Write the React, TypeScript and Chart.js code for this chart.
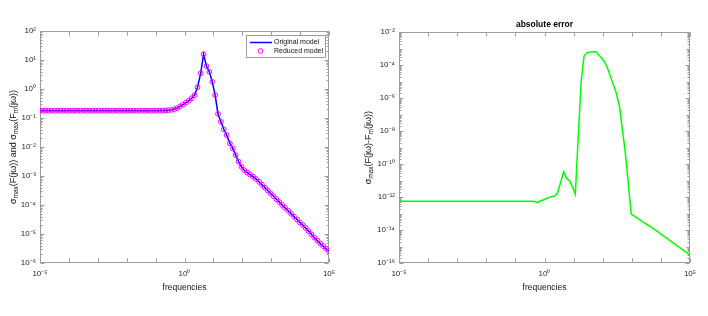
import React, { useEffect, useRef } from "react";
import { Chart, registerables } from "chart.js";

Chart.register(...registerables);

// ---------- data ----------
// frequency grid, as base-10 exponents (100 log-spaced samples from 1e-5 to 1e5)
const frequencyExponents = [
  -5.0, -4.9, -4.8, -4.7, -4.6, -4.49, -4.39, -4.29, -4.19, -4.09,
  -3.99, -3.89, -3.79, -3.69, -3.59, -3.48, -3.38, -3.28, -3.18, -3.08,
  -2.98, -2.88, -2.78, -2.68, -2.58, -2.47, -2.37, -2.27, -2.17, -2.07,
  -1.97, -1.87, -1.77, -1.67, -1.57, -1.46, -1.36, -1.26, -1.16, -1.06,
  -0.96, -0.86, -0.76, -0.66, -0.56, -0.45, -0.35, -0.25, -0.15, -0.05,
  0.05, 0.15, 0.25, 0.35, 0.45, 0.56, 0.66, 0.76, 0.86, 0.96,
  1.06, 1.16, 1.26, 1.36, 1.46, 1.57, 1.67, 1.77, 1.87, 1.97,
  2.07, 2.17, 2.27, 2.37, 2.47, 2.58, 2.68, 2.78, 2.88, 2.98,
  3.08, 3.18, 3.28, 3.38, 3.48, 3.59, 3.69, 3.79, 3.89, 3.99,
  4.09, 4.19, 4.29, 4.39, 4.49, 4.6, 4.7, 4.8, 4.9, 5.0,
];

const originalModel = [
  0.179, 0.179, 0.179, 0.179, 0.179, 0.179, 0.179, 0.179, 0.179, 0.179,
  0.179, 0.179, 0.179, 0.179, 0.179, 0.179, 0.179, 0.179, 0.179, 0.179,
  0.179, 0.179, 0.179, 0.179, 0.179, 0.179, 0.179, 0.179, 0.179, 0.179,
  0.179, 0.179, 0.179, 0.179, 0.179, 0.179, 0.179, 0.179, 0.179, 0.179,
  0.179, 0.179, 0.18, 0.182, 0.185, 0.191, 0.2, 0.221, 0.253, 0.288,
  0.339, 0.398, 0.479, 0.617, 1.15, 3.47, 15.8, 6.17, 3.89, 1.78,
  0.617, 0.138, 0.0741, 0.0407, 0.0257, 0.0135, 0.00891, 0.00525, 0.00316, 0.00209,
  0.00158, 0.00132, 0.00112, 0.000955, 0.000794, 0.000631, 0.000501, 0.000398, 0.000316, 0.000251,
  0.0002, 0.000158, 0.000126, 0.0001, 7.94e-5, 6.31e-5, 5.01e-5, 3.98e-5, 3.16e-5, 2.51e-5,
  2.04e-5, 1.62e-5, 1.26e-5, 9.77e-6, 7.59e-6, 5.89e-6, 4.68e-6, 3.8e-6, 3.09e-6, 2.57e-6,
];

const reducedModel = [
  0.179, 0.179, 0.179, 0.179, 0.179, 0.179, 0.179, 0.179, 0.179, 0.179,
  0.179, 0.179, 0.179, 0.179, 0.179, 0.179, 0.179, 0.179, 0.179, 0.179,
  0.179, 0.179, 0.179, 0.179, 0.179, 0.179, 0.179, 0.179, 0.179, 0.179,
  0.179, 0.179, 0.179, 0.179, 0.179, 0.179, 0.179, 0.179, 0.179, 0.179,
  0.179, 0.179, 0.18, 0.182, 0.185, 0.191, 0.2, 0.221, 0.253, 0.288,
  0.339, 0.398, 0.479, 0.617, 1.15, 3.47, 15.8, 6.17, 3.89, 1.78,
  0.617, 0.138, 0.0741, 0.0407, 0.0257, 0.0135, 0.00891, 0.00525, 0.00316, 0.00209,
  0.00158, 0.00132, 0.00112, 0.000955, 0.000794, 0.000631, 0.000501, 0.000398, 0.000316, 0.000251,
  0.0002, 0.000158, 0.000126, 0.0001, 7.94e-5, 6.31e-5, 5.01e-5, 3.98e-5, 3.16e-5, 2.51e-5,
  2.04e-5, 1.62e-5, 1.26e-5, 9.77e-6, 7.59e-6, 5.89e-6, 4.68e-6, 3.8e-6, 3.09e-6, 2.57e-6,
];

const absoluteError = [
  5.5e-13, 5.5e-13, 5.5e-13, 5.5e-13, 5.5e-13, 5.5e-13, 5.5e-13, 5.5e-13, 5.5e-13, 5.5e-13,
  5.5e-13, 5.5e-13, 5.5e-13, 5.5e-13, 5.5e-13, 5.5e-13, 5.5e-13, 5.5e-13, 5.5e-13, 5.5e-13,
  5.5e-13, 5.5e-13, 5.5e-13, 5.5e-13, 5.5e-13, 5.5e-13, 5.5e-13, 5.5e-13, 5.5e-13, 5.5e-13,
  5.5e-13, 5.5e-13, 5.5e-13, 5.5e-13, 5.5e-13, 5.5e-13, 5.5e-13, 5.5e-13, 5.5e-13, 5.5e-13,
  5.5e-13, 5.5e-13, 5.5e-13, 5.5e-13, 5.5e-13, 5.5e-13, 5.37e-13, 4.57e-13, 5.75e-13, 6.61e-13,
  7.94e-13, 9.55e-13, 1.05e-12, 1.15e-12, 1.82e-12, 8.51e-12, 3.47e-11, 1.35e-11, 9.77e-12, 4.27e-12,
  1.51e-12, 5.01e-9, 1.0e-5, 3.55e-4, 5.62e-4, 6.17e-4, 6.46e-4, 6.46e-4, 4.07e-4, 2.51e-4,
  1.58e-4, 6.31e-5, 1.95e-5, 6.17e-6, 1.91e-6, 2.95e-7, 1.15e-8, 4.47e-10, 6.76e-12, 9.33e-14,
  7.24e-14, 5.5e-14, 4.17e-14, 3.16e-14, 2.4e-14, 1.82e-14, 1.38e-14, 1.05e-14, 7.94e-15, 5.89e-15,
  4.37e-15, 3.31e-15, 2.45e-15, 1.82e-15, 1.35e-15, 1.0e-15, 7.41e-16, 5.5e-16, 4.07e-16, 3.02e-16,
];

const xTickExponents = [-5, 0, 5];
const leftYTickExponents = [-6, -5, -4, -3, -2, -1, 0, 1, 2];
const rightYTickExponents = [-16, -14, -12, -10, -8, -6, -4, -2];

const seriesLabels = ["Original model", "Reduced model"];
// axis titles with subscripted parts (sub: true)
const leftYTitle = [
  { t: "σ" }, { t: "max", sub: true }, { t: "(F(jω)) and σ" }, { t: "max", sub: true },
  { t: "(F" }, { t: "m", sub: true }, { t: "(jω))" },
];
const rightYTitle = [
  { t: "σ" }, { t: "max", sub: true }, { t: "(F(jω)-F" }, { t: "m", sub: true }, { t: "(jω))" },
];
const xTitle = "frequencies";
const rightTitle = "absolute error";

// ---------- styling ----------
const FONT = '"Liberation Sans", Arial, Helvetica, sans-serif';
const AXIS_COLOR = "#9c9c9c";
const TICK_TEXT = "#262626";

const SUP: Record<string, string> = {
  "-": "⁻", "0": "⁰", "1": "¹", "2": "²", "3": "³", "4": "⁴",
  "5": "⁵", "6": "⁶", "7": "⁷", "8": "⁸", "9": "⁹",
};
const pow10Label = (v: number) => {
  const e = Math.round(Math.log10(v));
  return "10" + String(e).split("").map((c) => SUP[c] || c).join("");
};

const frequencies = frequencyExponents.map((e) => Math.pow(10, e));
const toPoints = (ys: number[]) => frequencies.map((f, i) => ({ x: f, y: ys[i] }));

// Box with inward MATLAB-like ticks on all four sides
const axesFramePlugin = {
  id: "axesFrame",
  beforeDatasetsDraw(chart: any, _args: any, opts: any) {
    const { ctx, chartArea: ca, scales } = chart;
    const x = scales.x, y = scales.y;
    const L = Math.round(ca.left) + 0.5;
    const R = Math.round(ca.right) - 0.5;
    const T = Math.round(ca.top) + 0.5;
    const B = Math.round(ca.bottom) - 0.5;
    ctx.save();
    ctx.strokeStyle = opts.color || AXIS_COLOR;
    ctx.lineWidth = 1;
    ctx.beginPath();
    const x0 = Math.round(Math.log10(x.min)), x1 = Math.round(Math.log10(x.max));
    for (let e = x0; e <= x1; e++) {
      const px = Math.round(x.getPixelForValue(Math.pow(10, e))) + 0.5;
      ctx.moveTo(px, B); ctx.lineTo(px, B - 4);
      ctx.moveTo(px, T); ctx.lineTo(px, T + 4);
    }
    const y0 = Math.round(Math.log10(y.min)), y1 = Math.round(Math.log10(y.max));
    const step = opts.yStep || 1;
    for (let e = y0; e <= y1; e++) {
      const py = Math.round(y.getPixelForValue(Math.pow(10, e))) + 0.5;
      const len = (e - y0) % step === 0 ? 4 : 3;
      ctx.moveTo(L, py); ctx.lineTo(L + len, py);
      ctx.moveTo(R, py); ctx.lineTo(R - len, py);
      if (e < y1) {
        for (let m = 2; m <= 9; m++) {
          const pm = Math.round(y.getPixelForValue(m * Math.pow(10, e))) + 0.5;
          ctx.moveTo(L, pm); ctx.lineTo(L + 2, pm);
          ctx.moveTo(R, pm); ctx.lineTo(R - 2, pm);
        }
      }
    }
    ctx.stroke();
    ctx.strokeRect(L, T, R - L, B - T);
    ctx.restore();
  },
};

// Rotated y-axis title with real subscripts
const richYTitlePlugin = {
  id: "richYTitle",
  afterDraw(chart: any, _args: any, opts: any) {
    const { ctx, chartArea: ca } = chart;
    const segs = opts.segments as { t: string; sub?: boolean }[];
    const main = `${opts.size}px ${FONT}`;
    const small = `${opts.subSize}px ${FONT}`;
    ctx.save();
    let total = 0;
    const widths = segs.map((s) => {
      ctx.font = s.sub ? small : main;
      const w = ctx.measureText(s.t).width;
      total += w;
      return w;
    });
    ctx.translate(opts.x, (ca.top + ca.bottom) / 2);
    ctx.rotate(-Math.PI / 2);
    ctx.fillStyle = "#111111";
    ctx.textBaseline = "middle";
    ctx.textAlign = "left";
    let cx = -total / 2;
    segs.forEach((s, i) => {
      ctx.font = s.sub ? small : main;
      ctx.fillText(s.t, cx, s.sub ? opts.subShift : 0);
      cx += widths[i];
    });
    ctx.restore();
  },
};

// Legend box in the upper right corner of the plot area
const boxLegendPlugin = {
  id: "boxLegend",
  afterDatasetsDraw(chart: any) {
    const { ctx, chartArea: ca } = chart;
    const bw = 79, bh = 22;
    const bx = Math.round(ca.right) - 4 - bw;
    const by = Math.round(ca.top) + 4;
    ctx.save();
    ctx.fillStyle = "#ffffff";
    ctx.fillRect(bx, by, bw, bh);
    ctx.strokeStyle = AXIS_COLOR;
    ctx.lineWidth = 1;
    ctx.strokeRect(bx + 0.5, by + 0.5, bw, bh);
    ctx.font = `7px ${FONT}`;
    ctx.textBaseline = "middle";
    ctx.textAlign = "left";
    chart.data.datasets.forEach((ds: any, i: number) => {
      const cy = by + 7.5 + i * 8.5;
      if (ds.showLine) {
        ctx.strokeStyle = ds.borderColor;
        ctx.lineWidth = ds.borderWidth;
        ctx.beginPath();
        ctx.moveTo(bx + 4, cy);
        ctx.lineTo(bx + 26, cy);
        ctx.stroke();
      } else {
        ctx.strokeStyle = ds.pointBorderColor;
        ctx.lineWidth = ds.pointBorderWidth;
        ctx.beginPath();
        ctx.arc(bx + 14.5, cy, ds.pointRadius, 0, Math.PI * 2);
        ctx.stroke();
      }
      ctx.fillStyle = "#111111";
      ctx.fillText(ds.label, bx + 28, cy);
    });
    ctx.restore();
  },
};

function xAxis() {
  return {
    type: "logarithmic",
    position: "bottom",
    min: 1e-5,
    max: 1e5,
    grid: { display: false, drawTicks: false },
    border: { display: false },
    afterBuildTicks: (s: any) => {
      s.ticks = xTickExponents.map((e) => ({ value: Math.pow(10, e) }));
    },
    afterFit: (s: any) => {
      s.height = 53;
    },
    ticks: {
      callback: (v: number) => pow10Label(v),
      font: { family: FONT, size: 8 },
      color: TICK_TEXT,
      padding: 6,
      autoSkip: false,
      maxRotation: 0,
      minRotation: 0,
    },
    title: {
      display: true,
      text: xTitle,
      font: { family: FONT, size: 8.5 },
      color: "#111111",
      padding: { top: 0, bottom: 23 },
    },
  };
}

function yAxis(min: number, max: number, tickExps: number[], width: number) {
  return {
    type: "logarithmic",
    position: "left",
    min,
    max,
    grid: { display: false, drawTicks: false },
    border: { display: false },
    afterBuildTicks: (s: any) => {
      s.ticks = tickExps.map((e) => ({ value: Math.pow(10, e) }));
    },
    afterFit: (s: any) => {
      s.width = width;
    },
    ticks: {
      callback: (v: number) => pow10Label(v),
      font: { family: FONT, size: 8 },
      color: TICK_TEXT,
      padding: 4,
      autoSkip: false,
    },
    title: { display: false },
  };
}

export default function App() {
  const leftRef = useRef<HTMLCanvasElement>(null);
  const rightRef = useRef<HTMLCanvasElement>(null);

  useEffect(() => {
    Chart.defaults.font.family = FONT;
    const left = new Chart(leftRef.current as HTMLCanvasElement, {
      type: "scatter",
      data: {
        datasets: [
          {
            label: seriesLabels[0],
            data: toPoints(originalModel),
            showLine: true,
            borderColor: "#0000ff",
            borderWidth: 1.5,
            pointRadius: 0,
            pointHoverRadius: 0,
            order: 1,
          },
          {
            label: seriesLabels[1],
            data: toPoints(reducedModel),
            showLine: false,
            pointStyle: "circle",
            pointRadius: 2.4,
            pointBorderWidth: 1,
            pointBorderColor: "#ff00ff",
            pointBackgroundColor: "rgba(0,0,0,0)",
            borderColor: "#ff00ff",
            backgroundColor: "rgba(0,0,0,0)",
            order: 0,
          },
        ],
      } as any,
      options: {
        animation: false,
        responsive: false,
        maintainAspectRatio: false,
        devicePixelRatio: 1,
        events: [],
        layout: { padding: { left: 0, right: 25, top: 31, bottom: 0 } },
        scales: {
          x: xAxis(),
          y: yAxis(1e-6, 1e2, leftYTickExponents, 40),
        } as any,
        plugins: {
          legend: { display: false },
          tooltip: { enabled: false },
          title: { display: false },
          axesFrame: { color: AXIS_COLOR, yStep: 1 },
          richYTitle: { segments: leftYTitle, x: 13.5, size: 9, subSize: 6.5, subShift: 2.5 },
        } as any,
      },
      plugins: [axesFramePlugin, boxLegendPlugin, richYTitlePlugin],
    });

    const right = new Chart(rightRef.current as HTMLCanvasElement, {
      type: "scatter",
      data: {
        datasets: [
          {
            label: "absolute error",
            data: toPoints(absoluteError),
            showLine: true,
            borderColor: "#00ff00",
            borderWidth: 1.5,
            pointRadius: 0,
            pointHoverRadius: 0,
          },
        ],
      } as any,
      options: {
        animation: false,
        responsive: false,
        maintainAspectRatio: false,
        devicePixelRatio: 1,
        events: [],
        layout: { padding: { left: 0, right: 18, top: 0, bottom: 0 } },
        scales: {
          x: xAxis(),
          y: yAxis(1e-16, 1e-2, rightYTickExponents, 45),
        } as any,
        plugins: {
          legend: { display: false },
          tooltip: { enabled: false },
          title: {
            display: true,
            text: rightTitle,
            fullSize: false,
            color: "#000000",
            font: { family: FONT, size: 8.5, weight: "bold" },
            padding: { top: 20, bottom: 2 },
          },
          axesFrame: { color: AXIS_COLOR, yStep: 2 },
          richYTitle: { segments: rightYTitle, x: 15, size: 9, subSize: 6.5, subShift: 2.5 },
        } as any,
      },
      plugins: [axesFramePlugin, richYTitlePlugin],
    });

    return () => {
      left.destroy();
      right.destroy();
    };
  }, []);

  return (
    <div style={{ position: "fixed", left: 0, top: 0, width: 708, height: 316, background: "#ffffff" }}>
      <canvas
        ref={leftRef}
        width={354}
        height={316}
        style={{ position: "absolute", left: 0, top: 0, width: 354, height: 316 }}
      />
      <canvas
        ref={rightRef}
        width={354}
        height={316}
        style={{ position: "absolute", left: 354, top: 0, width: 354, height: 316 }}
      />
    </div>
  );
}
